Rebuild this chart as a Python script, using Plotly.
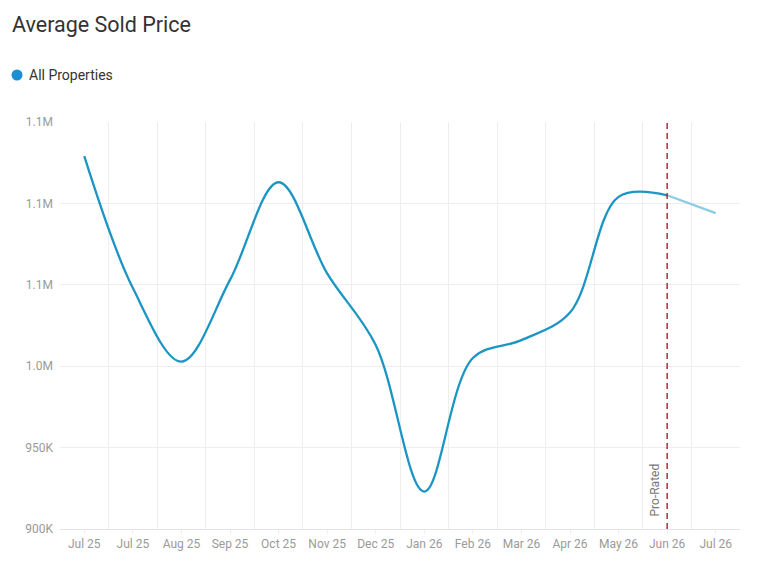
import plotly.graph_objects as go

months = ["Jul 25", "Jul 25", "Aug 25", "Sep 25", "Oct 25", "Nov 25", "Dec 25",
          "Jan 26", "Feb 26", "Mar 26", "Apr 26", "May 26", "Jun 26", "Jul 26"]
avg_price = [1129000, 1048000, 1002800, 1053000, 1113000, 1057000, 1013000,
             923000, 1005000, 1016000, 1033000, 1104000, 1105000]
projected_price = [1105000, 1094000]
prorated_index = 12
legend_label = "All Properties"

y_ticks = [900000, 950000, 1000000, 1050000, 1100000, 1150000]
y_labels = ["900K", "950K", "1.0M", "1.1M", "1.1M", "1.1M"]

line_color = "#1b95c4"
proj_color = "#8ccbe3"
grid = "#eeeeee"

W, H = 768, 568
ML, MR, MT, MB = 52, 36, 114, 47
PW, PH = W - ML - MR, H - MT - MB

x_idx = list(range(len(months)))

fig = go.Figure()
fig.add_trace(go.Scatter(
    x=x_idx[:len(avg_price)], y=avg_price, mode="lines", name=legend_label,
    line=dict(color=line_color, width=2.3, shape="spline", smoothing=1.0),
    showlegend=False, hoverinfo="skip"))
fig.add_trace(go.Scatter(
    x=x_idx[prorated_index:prorated_index + len(projected_price)], y=projected_price,
    mode="lines", line=dict(color=proj_color, width=2.3, shape="spline"),
    showlegend=False, hoverinfo="skip"))

fig.add_shape(type="line", xref="x", yref="paper",
              x0=prorated_index, x1=prorated_index, y0=0, y1=1,
              line=dict(color="#a8202a", width=1.4, dash="6px,4px"))
fig.add_annotation(x=prorated_index, xref="x", y=0.025, yref="paper",
                   text="Pro-Rated", textangle=-90, showarrow=False,
                   xanchor="right", yanchor="bottom", xshift=-3,
                   font=dict(size=12, color="#777777"))

# legend (dot + label)
leg_y = 1 + (MT - 67) / PH
fig.add_shape(type="circle", xref="paper", yref="paper",
              xsizemode="pixel", ysizemode="pixel",
              xanchor=(9 - ML) / PW, yanchor=leg_y,
              x0=-5.5, x1=5.5, y0=-5.5, y1=5.5,
              fillcolor="#1a8fd4", line=dict(width=0))
fig.add_annotation(x=(19 - ML) / PW, xref="paper", y=leg_y, yref="paper",
                   text=legend_label, showarrow=False, xanchor="left",
                   yanchor="middle", font=dict(size=14, color="#333333"))

fig.update_layout(
    width=W, height=H,
    margin=dict(l=ML, r=MR, t=MT, b=MB),
    paper_bgcolor="white", plot_bgcolor="white",
    font=dict(family="Roboto, sans-serif", color="#333333"),
    title=dict(text="Average Sold Price", x=4 / W, xanchor="left",
               y=1 - 16 / H, yanchor="middle", font=dict(size=21.5, color="#333333")),
    showlegend=False,
    xaxis=dict(range=[-0.5, len(months) - 0.5], tickmode="array",
               tickvals=x_idx, ticktext=months, showgrid=False,
               ticks="outside", ticklen=4, tickcolor=grid,
               tickfont=dict(size=12, color="#9a9a9a"),
               showline=True, linecolor="#e4e4e4", zeroline=False,
               minor=dict(tickvals=[i - 0.5 for i in range(len(months) + 1)],
                          showgrid=True, gridcolor=grid, gridwidth=1, ticks="")),
    yaxis=dict(range=[900000, 1150000], tickmode="array", tickvals=y_ticks,
               ticktext=y_labels, showgrid=True, gridcolor=grid, zeroline=False,
               tickfont=dict(size=12, color="#9a9a9a"), ticks="", ticklabelstandoff=6),
)

fig.write_html("out.html")
